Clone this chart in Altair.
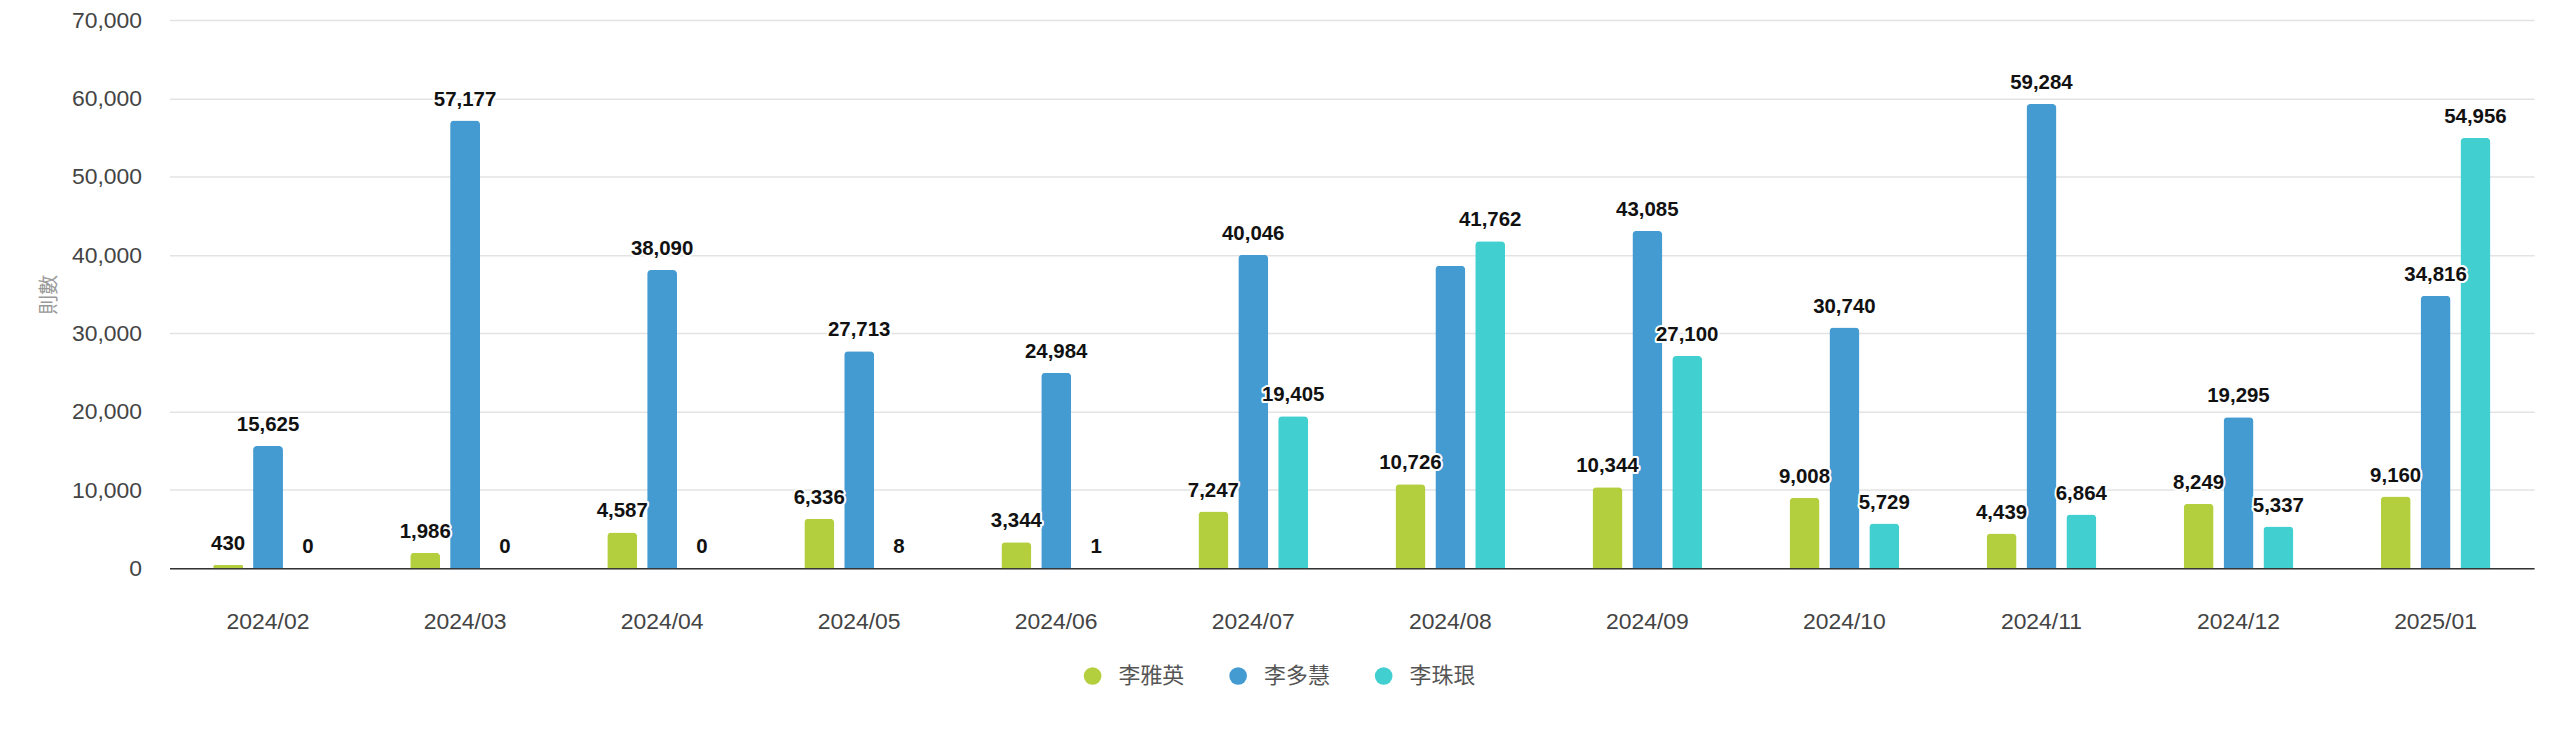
import altair as alt
import pandas as pd

months = ["2024/02", "2024/03", "2024/04", "2024/05", "2024/06", "2024/07",
          "2024/08", "2024/09", "2024/10", "2024/11", "2024/12", "2025/01"]
series = ["李雅英", "李多慧", "李珠珢"]
li_yaying = [430, 1986, 4587, 6336, 3344, 7247, 10726, 10344, 9008, 4439, 8249, 9160]
li_duohui = [15625, 57177, 38090, 27713, 24984, 40046, 38630, 43085, 30740, 59284, 19295, 34816]
li_zhuyin = [0, 0, 0, 8, 1, 19405, 41762, 27100, 5729, 6864, 5337, 54956]
hidden_labels = [("2024/08", "李多慧")]
colors = ["#b3cf3d", "#449bd1", "#42cfcf"]
y_ticks = [0, 10000, 20000, 30000, 40000, 50000, 60000, 70000]

rows = []
for name, vals in zip(series, [li_yaying, li_duohui, li_zhuyin]):
    for m, v in zip(months, vals):
        rows.append({"month": m, "name": name, "value": v,
                     "show": (m, name) not in hidden_labels})
df = pd.DataFrame(rows)

x = alt.X("month:N", sort=months, title=None,
          scale=alt.Scale(paddingInner=0.4435, paddingOuter=0.22175),
          axis=alt.Axis(labelAngle=0, labelFontSize=23, labelColor="#444444",
                        labelFont="Liberation Sans", labelPadding=42,
                        ticks=False, tickSize=0, domainColor="#333333",
                        domainWidth=1.5, grid=False))
xo = alt.XOffset("name:N", sort=series,
                 scale=alt.Scale(paddingInner=0.25, paddingOuter=0))
y = alt.Y("value:Q", scale=alt.Scale(domain=[0, 70000], nice=False),
          axis=alt.Axis(values=y_ticks, format=",.0f", title="則數",
                        labelFontSize=23, labelColor="#444444",
                        labelFont="Liberation Sans", labelPadding=28,
                        ticks=False, tickSize=0, domain=False,
                        gridColor="#e3e3e3", gridWidth=1.5,
                        titleFont="Noto Sans CJK TC", titleFontSize=20,
                        titleColor="#999999", titleFontWeight="normal",
                        titleX=-120, titleY=275, titleAngle=270,
                        titleBaseline="middle", titleAlign="center"))

bars = alt.Chart(df).mark_bar(cornerRadiusTopLeft=4, cornerRadiusTopRight=4).encode(
    x=x, xOffset=xo, y=y,
    color=alt.Color("name:N", sort=series,
                    scale=alt.Scale(domain=series, range=colors),
                    legend=alt.Legend(orient="none", legendX=915, legendY=647,
                                      direction="horizontal", title=None,
                                      symbolType="circle", symbolSize=314,
                                      symbolStrokeWidth=0, symbolOpacity=1,
                                      labelFontSize=22, labelFont="Noto Sans CJK TC",
                                      labelColor="#555555", labelOffset=15,
                                      columnPadding=42, padding=0, labelLimit=0))
)

label_base = alt.Chart(df).transform_filter("datum.show").encode(
    x=alt.X("month:N", sort=months), xOffset=alt.XOffset("name:N", sort=series),
    y="value:Q", text=alt.Text("value:Q", format=",.0f"))

halo = label_base.mark_text(dy=-15, baseline="alphabetic", fontSize=20.5,
                            fontWeight="bold", font="Liberation Sans",
                            stroke="white", strokeWidth=4, strokeJoin="round",
                            fill="white")
labels = label_base.mark_text(dy=-15, baseline="alphabetic", fontSize=20.5,
                              fontWeight="bold", font="Liberation Sans",
                              fill="#111111")

chart = alt.layer(bars, halo, labels).properties(
    width=2372, height=550,
    padding={"left": 162, "top": 11, "right": 18, "bottom": 150},
    autosize=alt.AutoSizeParams(type="none"),
).configure_view(stroke=None)

chart.save("out.html", embed_options={"renderer": "svg", "actions": False})
